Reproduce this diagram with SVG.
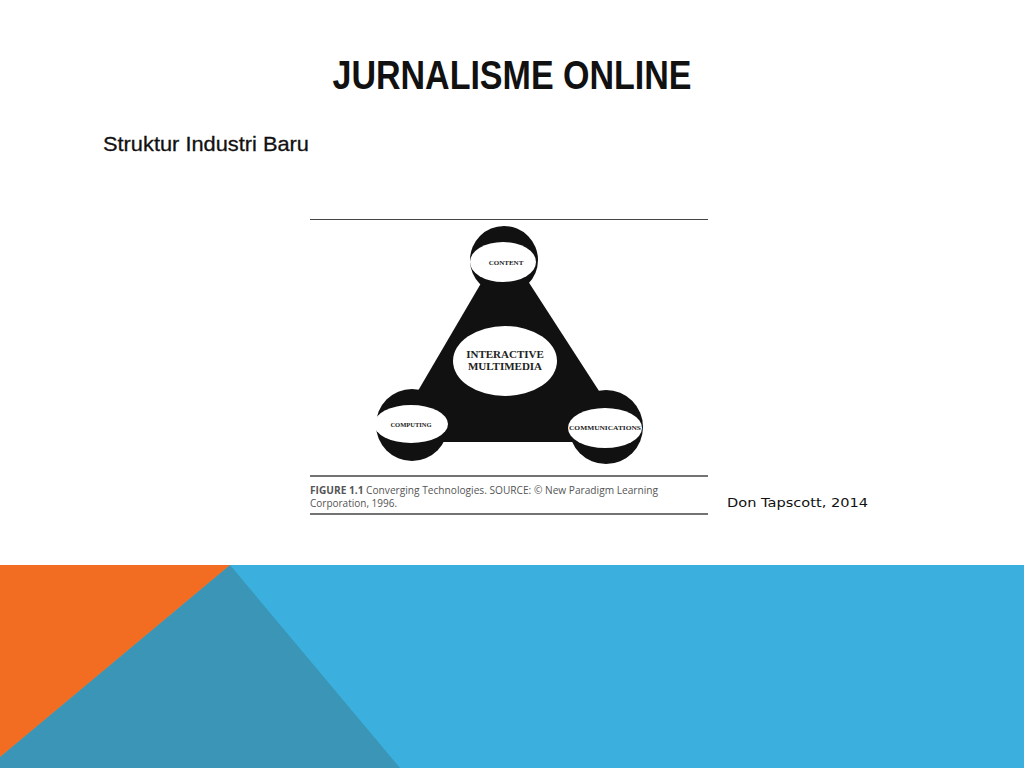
<svg xmlns="http://www.w3.org/2000/svg" width="1024" height="768" viewBox="0 0 1024 768">
<style>
.sans{font-family:"Liberation Sans",Arial,sans-serif}
.serif{font-family:"Liberation Serif","Times New Roman",serif;font-weight:bold;fill:#222}
.rule{stroke:#444;fill:none}
.cap{font-family:"Open Sans","Liberation Sans",sans-serif;font-size:10px;fill:#555}
</style>
<rect width="1024" height="768" fill="#ffffff"/>
<g id="band">
<rect x="0" y="565" width="1024" height="203" fill="#3BB0DE"/>
<polygon points="230,565 400,768 0,768 0,757" fill="#3A95B6"/>
<polygon points="0,565 230,565 0,757" fill="#F26D21"/>
</g>
<g id="title">
<text class="sans" x="512" y="89" font-size="40" font-weight="bold" text-anchor="middle" textLength="359" lengthAdjust="spacingAndGlyphs" fill="#111">JURNALISME ONLINE</text>
</g>
<g id="subtitle">
<text class="sans" x="103" y="151" font-size="21" textLength="206" lengthAdjust="spacingAndGlyphs" fill="#111" stroke="#111" stroke-width="0.3">Struktur Industri Baru</text>
</g>
<g id="figure">
<line class="rule" x1="310" y1="219.5" x2="708" y2="219.5" stroke-width="1"/>
<line class="rule" x1="310" y1="476" x2="708" y2="476" stroke-width="1.5"/>
<line class="rule" x1="310" y1="514" x2="708" y2="514" stroke-width="1.5"/>
<g id="triangle">
<polygon points="504,244 388,442 632,442" fill="#111"/>
</g>
<g id="content">
<circle cx="504" cy="260" r="34" fill="#111"/>
<ellipse cx="503" cy="262" rx="33" ry="20" fill="#fff"/>
<text class="serif" x="506" y="265" font-size="7" text-anchor="middle">CONTENT</text>
</g>
<g id="computing">
<circle cx="412" cy="425" r="36" fill="#111"/>
<ellipse cx="411" cy="424" rx="37" ry="19" fill="#fff"/>
<text class="serif" x="411" y="427" font-size="6.5" text-anchor="middle">COMPUTING</text>
</g>
<g id="communications">
<circle cx="606" cy="427" r="37" fill="#111"/>
<ellipse cx="605" cy="428" rx="37" ry="20" fill="#fff"/>
<text class="serif" x="605" y="430" font-size="6.5" text-anchor="middle" textLength="72" lengthAdjust="spacingAndGlyphs">COMMUNICATIONS</text>
</g>
<g id="interactive">
<ellipse cx="505" cy="361" rx="52" ry="35" fill="#fff"/>
<text class="serif" x="505" y="358" font-size="11" text-anchor="middle">INTERACTIVE</text>
<text class="serif" x="505" y="370" font-size="11" text-anchor="middle">MULTIMEDIA</text>
</g>
<g id="caption">
<text class="cap" x="310" y="494" textLength="348" lengthAdjust="spacingAndGlyphs"><tspan font-weight="bold">FIGURE 1.1</tspan>  Converging Technologies. SOURCE: © New Paradigm Learning</text>
<text class="cap" x="310" y="507">Corporation, 1996.</text>
</g>
</g>
<g id="credit">
<text x="727" y="507" font-family="DejaVu Sans,Verdana,sans-serif" font-size="13" textLength="141" lengthAdjust="spacingAndGlyphs" fill="#111">Don Tapscott, 2014</text>
</g>
</svg>
